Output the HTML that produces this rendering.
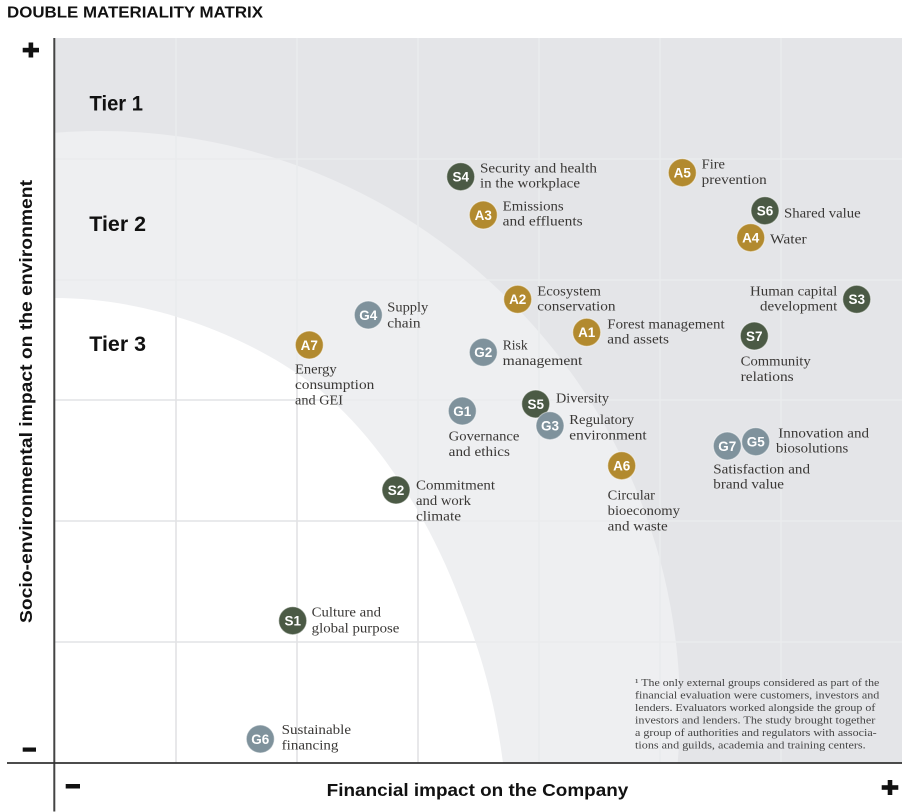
<!DOCTYPE html>
<html><head><meta charset="utf-8"><style>
html,body{margin:0;padding:0;background:#fff;width:918px;height:812px;overflow:hidden;}
svg{display:block;}
.lb{font-family:"Liberation Serif",serif;font-size:14px;fill:#3a3836;}
.ck{font-family:"Liberation Sans",sans-serif;font-weight:bold;font-size:13.5px;fill:#fff;text-anchor:middle;}
.tr{font-family:"Liberation Sans",sans-serif;font-weight:bold;font-size:21px;fill:#111;}
.fn{font-family:"Liberation Serif",serif;font-size:10.5px;fill:#444;}
</style></head><body>
<svg width="918" height="812" viewBox="0 0 918 812" xmlns="http://www.w3.org/2000/svg" overflow="hidden">
<defs>
<clipPath id="wh"><path d="M55,298 C150,298 250,335 320,390 C380,440 430,520 460,600 C480,650 495,700 503,763 L55,763 Z"/></clipPath>
</defs>
<text x="7" y="17.5" font-family="Liberation Sans, sans-serif" font-weight="bold" font-size="15.5" fill="#111" textLength="256" lengthAdjust="spacingAndGlyphs">DOUBLE MATERIALITY MATRIX</text>

<rect x="55" y="38" width="847" height="725" fill="#e4e5e8"/>
<path d="M55,763 L55,132.75 A580,580 0 0 1 677.66,763 Z" fill="#eeeff1"/>
<g stroke="#eaebed" stroke-width="1.6">
<line x1="176" y1="38" x2="176" y2="763"/><line x1="297" y1="38" x2="297" y2="763"/><line x1="418" y1="38" x2="418" y2="763"/><line x1="539" y1="38" x2="539" y2="763"/><line x1="660" y1="38" x2="660" y2="763"/><line x1="781" y1="38" x2="781" y2="763"/>
<line x1="55" y1="159" x2="902" y2="159"/><line x1="55" y1="280" x2="902" y2="280"/><line x1="55" y1="400" x2="902" y2="400"/><line x1="55" y1="521" x2="902" y2="521"/><line x1="55" y1="642" x2="902" y2="642"/>
</g>
<path d="M55,298 C150,298 250,335 320,390 C380,440 430,520 460,600 C480,650 495,700 503,763 L55,763 Z" fill="#ffffff"/>
<g clip-path="url(#wh)" stroke="#e2e3e5" stroke-width="1.6">
<line x1="176" y1="298" x2="176" y2="763"/><line x1="297" y1="298" x2="297" y2="763"/><line x1="418" y1="298" x2="418" y2="763"/><line x1="539" y1="298" x2="539" y2="763"/>
<line x1="55" y1="400" x2="503" y2="400"/><line x1="55" y1="521" x2="503" y2="521"/><line x1="55" y1="642" x2="503" y2="642"/>
</g>

<line x1="54.3" y1="38" x2="54.3" y2="811.5" stroke="#444" stroke-width="2"/>
<line x1="7" y1="763" x2="902" y2="763" stroke="#333" stroke-width="1.8"/>
<rect x="22.7" y="47.8" width="16.3" height="4.6" fill="#111"/><rect x="28.6" y="42.5" width="4.6" height="15" fill="#111"/>
<rect x="22.7" y="747.5" width="13.3" height="4.2" fill="#111"/>
<rect x="65.7" y="784" width="14.3" height="4.5" fill="#111"/>
<rect x="881.7" y="785.2" width="16.6" height="4.6" fill="#111"/><rect x="887.7" y="780" width="4.6" height="15" fill="#111"/>

<text x="89.5" y="110.7" class="tr" textLength="53.5" lengthAdjust="spacingAndGlyphs">Tier 1</text>
<text x="89.3" y="231" class="tr" textLength="56.7" lengthAdjust="spacingAndGlyphs">Tier 2</text>
<text x="89.3" y="351" class="tr" textLength="56.7" lengthAdjust="spacingAndGlyphs">Tier 3</text>

<text transform="translate(32,401.5) rotate(-90)" text-anchor="middle" font-family="Liberation Sans, sans-serif" font-weight="bold" font-size="17.5" fill="#111" textLength="443" lengthAdjust="spacingAndGlyphs">Socio-environmental impact on the environment</text>
<text x="326.7" y="796" font-family="Liberation Sans, sans-serif" font-weight="bold" font-size="17.5" fill="#111" textLength="301.6" lengthAdjust="spacingAndGlyphs">Financial impact on the Company</text>

<g class="lb">
<text x="480" y="172.7" textLength="117" lengthAdjust="spacingAndGlyphs">Security and health</text>
<text x="480" y="187.7" textLength="100" lengthAdjust="spacingAndGlyphs">in the workplace</text>
<text x="701.7" y="168.3" textLength="23.3" lengthAdjust="spacingAndGlyphs">Fire</text>
<text x="701.7" y="184" textLength="65" lengthAdjust="spacingAndGlyphs">prevention</text>
<text x="502.7" y="210.7" textLength="61" lengthAdjust="spacingAndGlyphs">Emissions</text>
<text x="502.7" y="225.7" textLength="80" lengthAdjust="spacingAndGlyphs">and effluents</text>
<text x="784" y="217.7" textLength="76.7" lengthAdjust="spacingAndGlyphs">Shared value</text>
<text x="770" y="243.3" textLength="36.7" lengthAdjust="spacingAndGlyphs">Water</text>
<text x="537.3" y="295.7" textLength="63.7" lengthAdjust="spacingAndGlyphs">Ecosystem</text>
<text x="537.3" y="310.7" textLength="78.3" lengthAdjust="spacingAndGlyphs">conservation</text>
<text x="750" y="295.7" textLength="87.3" lengthAdjust="spacingAndGlyphs">Human capital</text>
<text x="760" y="310.7" textLength="77.3" lengthAdjust="spacingAndGlyphs">development</text>
<text x="607.3" y="328.3" textLength="117.3" lengthAdjust="spacingAndGlyphs">Forest management</text>
<text x="607.3" y="343.3" textLength="61.7" lengthAdjust="spacingAndGlyphs">and assets</text>
<text x="740.7" y="365.7" textLength="70" lengthAdjust="spacingAndGlyphs">Community</text>
<text x="740.7" y="381" textLength="53" lengthAdjust="spacingAndGlyphs">relations</text>
<text x="502.7" y="349.3" textLength="25" lengthAdjust="spacingAndGlyphs">Risk</text>
<text x="502.7" y="365" textLength="79.7" lengthAdjust="spacingAndGlyphs">management</text>
<text x="387.3" y="311.7" textLength="41" lengthAdjust="spacingAndGlyphs">Supply</text>
<text x="387.3" y="327.3" textLength="33.3" lengthAdjust="spacingAndGlyphs">chain</text>
<text x="295" y="373.3" textLength="41.7" lengthAdjust="spacingAndGlyphs">Energy</text>
<text x="295" y="389" textLength="79.3" lengthAdjust="spacingAndGlyphs">consumption</text>
<text x="295" y="404.3" textLength="48" lengthAdjust="spacingAndGlyphs">and GEI</text>
<text x="448.7" y="440.7" textLength="70.7" lengthAdjust="spacingAndGlyphs">Governance</text>
<text x="448.7" y="456" textLength="61.3" lengthAdjust="spacingAndGlyphs">and ethics</text>
<text x="556" y="402.7" textLength="53" lengthAdjust="spacingAndGlyphs">Diversity</text>
<text x="569.3" y="424" textLength="64.7" lengthAdjust="spacingAndGlyphs">Regulatory</text>
<text x="569.3" y="439.3" textLength="77.3" lengthAdjust="spacingAndGlyphs">environment</text>
<text x="607.7" y="499.3" textLength="47.3" lengthAdjust="spacingAndGlyphs">Circular</text>
<text x="607.7" y="515" textLength="72.3" lengthAdjust="spacingAndGlyphs">bioeconomy</text>
<text x="607.7" y="530.7" textLength="60" lengthAdjust="spacingAndGlyphs">and waste</text>
<text x="416" y="489.3" textLength="79" lengthAdjust="spacingAndGlyphs">Commitment</text>
<text x="416" y="505" textLength="55" lengthAdjust="spacingAndGlyphs">and work</text>
<text x="416" y="520.7" textLength="45" lengthAdjust="spacingAndGlyphs">climate</text>
<text x="778.3" y="437.3" textLength="90.7" lengthAdjust="spacingAndGlyphs">Innovation and</text>
<text x="776" y="452.7" textLength="72.3" lengthAdjust="spacingAndGlyphs">biosolutions</text>
<text x="713.3" y="473.3" textLength="96.7" lengthAdjust="spacingAndGlyphs">Satisfaction and</text>
<text x="713.3" y="488.3" textLength="70.7" lengthAdjust="spacingAndGlyphs">brand value</text>
<text x="311.7" y="616.7" textLength="69.3" lengthAdjust="spacingAndGlyphs">Culture and</text>
<text x="311.7" y="632.7" textLength="87.7" lengthAdjust="spacingAndGlyphs">global purpose</text>
<text x="281.7" y="734" textLength="69.3" lengthAdjust="spacingAndGlyphs">Sustainable</text>
<text x="281.7" y="749.3" textLength="56.7" lengthAdjust="spacingAndGlyphs">financing</text>
</g>

<g stroke="rgba(255,255,255,0.45)" stroke-width="1.2">
<circle cx="460.7" cy="176.7" r="14" fill="#4b5a45"/>
<circle cx="682.3" cy="172.7" r="14" fill="#b28a2f"/>
<circle cx="483.3" cy="215" r="14" fill="#b28a2f"/>
<circle cx="765" cy="210.7" r="14" fill="#4b5a45"/>
<circle cx="750.7" cy="237.7" r="14" fill="#b28a2f"/>
<circle cx="517.7" cy="299.3" r="14" fill="#b28a2f"/>
<circle cx="856.7" cy="299.3" r="14" fill="#4b5a45"/>
<circle cx="586.7" cy="332.3" r="14" fill="#b28a2f"/>
<circle cx="754.3" cy="336" r="14" fill="#4b5a45"/>
<circle cx="483.3" cy="352.3" r="14" fill="#7f929c"/>
<circle cx="368.3" cy="315" r="14" fill="#7f929c"/>
<circle cx="309.3" cy="345" r="14" fill="#b28a2f"/>
<circle cx="462.3" cy="411" r="14" fill="#7f929c"/>
<circle cx="535.7" cy="404" r="14" fill="#4b5a45"/>
<circle cx="550" cy="425.7" r="14" fill="#7f929c"/>
<circle cx="621.7" cy="465.7" r="14" fill="#b28a2f"/>
<circle cx="396" cy="490" r="14" fill="#4b5a45"/>
<circle cx="727.3" cy="446" r="14" fill="#7f929c"/>
<circle cx="755.7" cy="441.7" r="14" fill="#7f929c"/>
<circle cx="292.7" cy="620.7" r="14" fill="#4b5a45"/>
<circle cx="260.3" cy="739" r="14" fill="#7f929c"/>
</g>
<g class="ck">
<text x="460.7" y="181.6">S4</text>
<text x="682.3" y="177.6">A5</text>
<text x="483.3" y="219.9">A3</text>
<text x="765" y="215.6">S6</text>
<text x="750.7" y="242.6">A4</text>
<text x="517.7" y="304.2">A2</text>
<text x="856.7" y="304.2">S3</text>
<text x="586.7" y="337.2">A1</text>
<text x="754.3" y="340.9">S7</text>
<text x="483.3" y="357.2">G2</text>
<text x="368.3" y="319.9">G4</text>
<text x="309.3" y="349.9">A7</text>
<text x="462.3" y="415.9">G1</text>
<text x="535.7" y="408.9">S5</text>
<text x="550" y="430.6">G3</text>
<text x="621.7" y="470.6">A6</text>
<text x="396" y="494.9">S2</text>
<text x="727.3" y="450.9">G7</text>
<text x="755.7" y="446.6">G5</text>
<text x="292.7" y="625.6">S1</text>
<text x="260.3" y="743.9">G6</text>
</g>

<g class="fn">
<text x="635" y="686" textLength="244.3" lengthAdjust="spacingAndGlyphs">¹ The only external groups considered as part of the</text>
<text x="635" y="698.7" textLength="244.3" lengthAdjust="spacingAndGlyphs">financial evaluation were customers, investors and</text>
<text x="635" y="711" textLength="240.3" lengthAdjust="spacingAndGlyphs">lenders. Evaluators worked alongside the group of</text>
<text x="635" y="723.3" textLength="240.3" lengthAdjust="spacingAndGlyphs">investors and lenders. The study brought together</text>
<text x="635" y="736" textLength="241.7" lengthAdjust="spacingAndGlyphs">a group of authorities and regulators with associa-</text>
<text x="635" y="748.7" textLength="230.7" lengthAdjust="spacingAndGlyphs">tions and guilds, academia and training centers.</text>
</g>
</svg>
</body></html>
